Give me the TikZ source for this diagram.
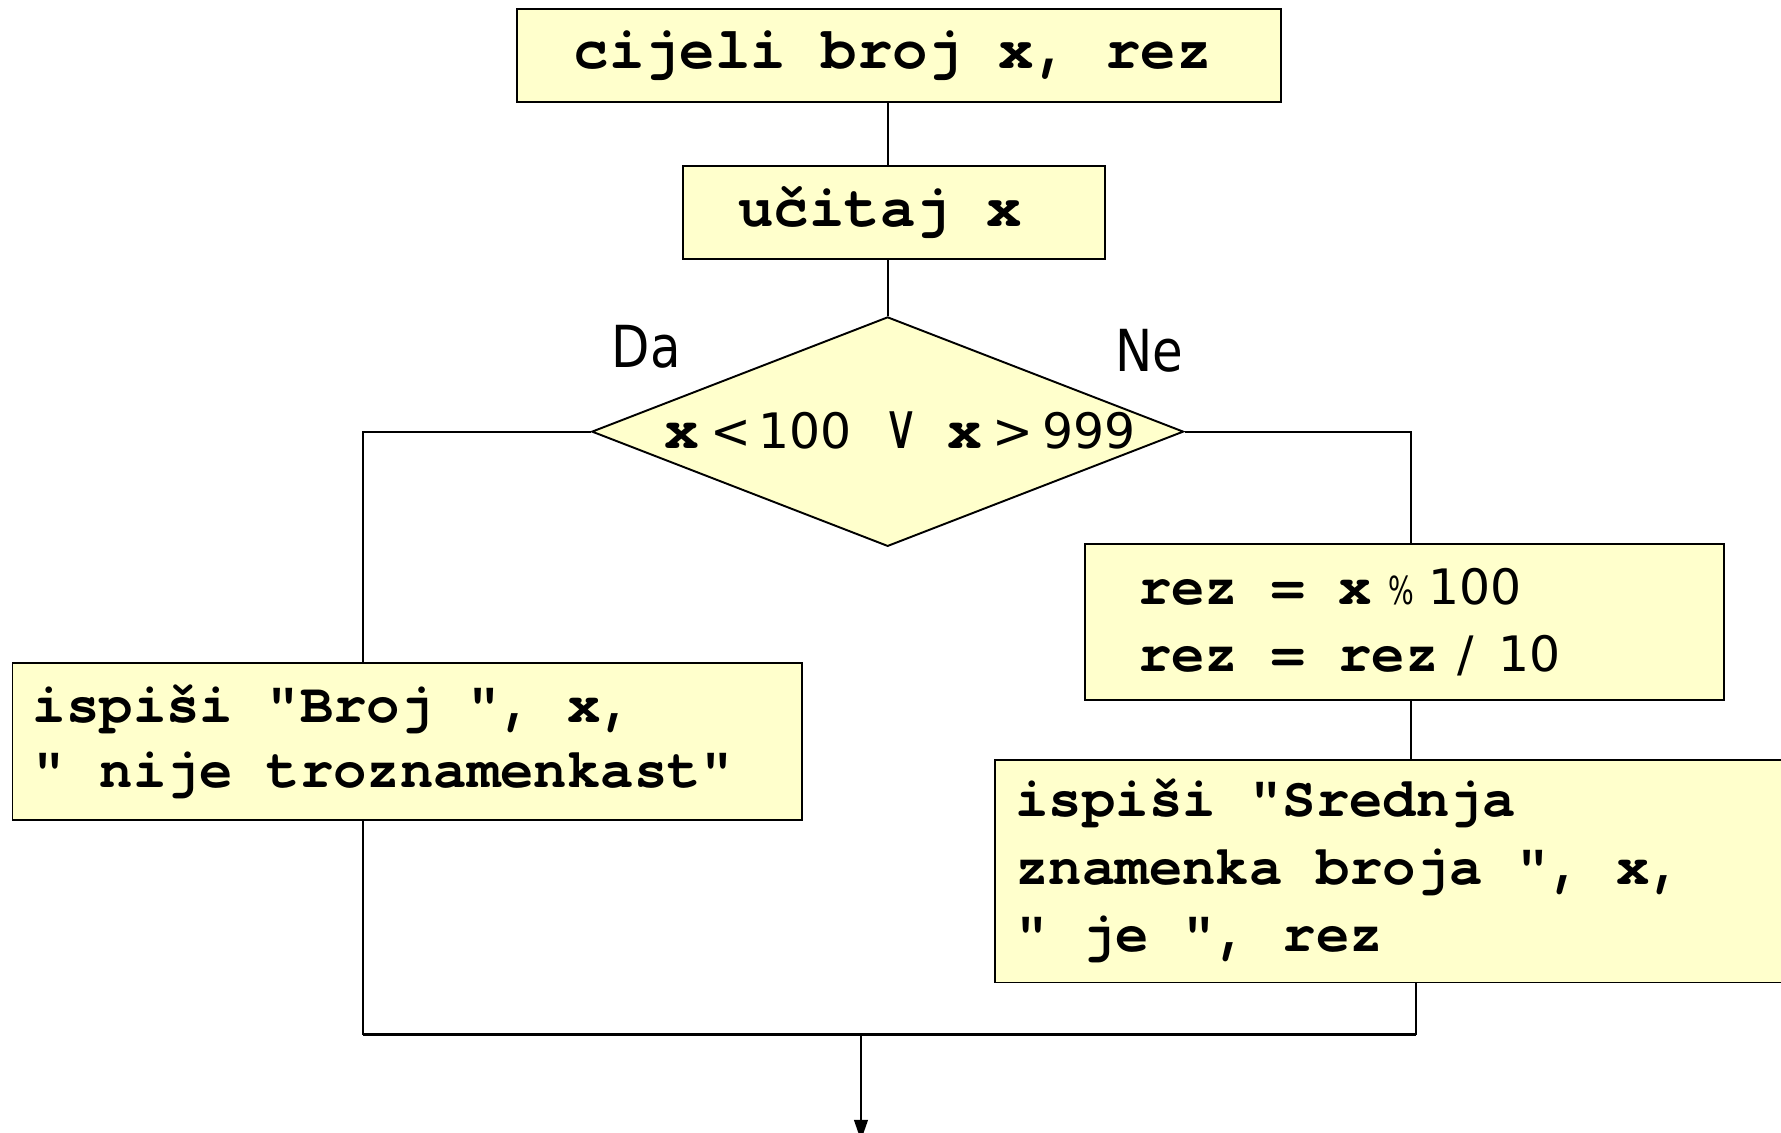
\documentclass[tikz,border=0pt]{standalone}
\usepackage{fontspec}
\usepackage{graphicx}
\usetikzlibrary{shapes.geometric,arrows.meta}
\newfontfamily\codefont{texgyrecursor}[Extension=.otf, UprightFont=*-bold, BoldFont=*-bold, Ligatures=TeXOff]
\newfontfamily\digitfont{DejaVu Sans}
\newfontfamily\labelfont{DejaVu Sans}[FakeStretch=0.86]
\definecolor{boxfill}{HTML}{FFFFCC}
% bold monospace code and sans-serif operators/numbers
\newcommand\codetxt[1]{{\codefont\bfseries\fontsize{51}{59}\selectfont #1}}
\newcommand\sanstxt[2][43]{{\digitfont\mdseries\fontsize{#1}{59}\selectfont #2}}
% keep full-width monospace word spaces inside ragged node text
\newcommand\monosp{\spaceskip=0.6em\xspaceskip=0.6em\relax}

\begin{document}
\begin{tikzpicture}[x=1pt,y=-1pt,
  pbox/.style={draw, line width=1.7pt, fill=boxfill, align=left, inner ysep=0pt},
  bigcode/.style={font=\codefont\bfseries\fontsize{52}{59}\selectfont},
  code/.style={font=\codefont\bfseries\fontsize{49}{#1}\selectfont},
  conn/.style={line width=1.8pt},
  branchlabel/.style={font=\labelfont\fontsize{51}{51}\selectfont, inner sep=0pt}]

\useasboundingbox (0,0) rectangle (1568,997);
\clip (0,0) rectangle (1568,997);

% declaration and input
\node[pbox, bigcode, text width=573pt, inner xsep=50pt, minimum height=82pt] (decl) at (791.5,49) {\monosp cijeli broj x, rez};
\node[pbox, bigcode, text width=274pt, inner xsep=49pt, minimum height=82pt] (read) at (787,187) {\monosp učitaj x};

% decision
\node[draw, line width=1.7pt, fill=boxfill, diamond, minimum width=521pt, minimum height=202pt, inner sep=0pt] (d) at (781.5,380) {};
\node[inner sep=0pt, anchor=base west] (cond) at (585,395)
  {\codetxt{x}\hspace{10pt}\sanstxt{<\hspace{6pt}100\hspace{28pt}\scalebox{1.0}[1.3]{∨}\hspace{25pt}}\codetxt{x}\hspace{9pt}\sanstxt{>\hspace{8pt}999}};

\node[branchlabel] (da) at (569,305.5) {Da};
\node[branchlabel] (ne) at (1012,308.5) {Ne};

% output and computation boxes
\node[pbox, code=57, text width=659pt, inner xsep=18pt, minimum height=138pt] (L) at (358.5,653)
  {\monosp ispiši "Broj ", x,\\" nije troznamenkast"};
\node[pbox, code=59, text width=469pt, inner xsep=47pt, minimum height=137pt] (R1) at (1236.5,547.5)
  {\monosp rez = x\hspace{15pt}\scalebox{0.7}[1]{\sanstxt[34]{\%}}\hspace{12pt}\sanstxt{100}\\rez = rez\hspace{17pt}\sanstxt{/}\hspace{21pt}\sanstxt{10}};
\node[pbox, code=59.5, text width=708pt, inner xsep=18pt, minimum height=196pt] (R2) at (1248,767)
  {\monosp ispiši "Srednja\\znamenka broja ", x,\\" je ", rez};

% routing points
\coordinate (lx) at (320,379);
\coordinate (rx) at (1242,379);
\coordinate (jl) at (320,911);
\coordinate (jr) at (1247,911);
\coordinate (j) at (758,911);
\coordinate (exit) at (758,1004);

% connectors
\draw[conn] (decl.south -| d.north) -- (read.north -| d.north);
\draw[conn] (read.south -| d.north) -- (d.north);
\draw[conn] (d.west) -| (L.north -| lx);
\draw[conn] (d.east) -| (R1.north -| rx);
\draw[conn] (R1.south -| rx) -- (R2.north -| rx);
\draw[conn] (L.south -| jl) -- (jl);
\draw[conn] (R2.south -| jr) -- (jr);
\draw[line width=2.8pt] (jl) -- (jr);
\draw[conn, -{Triangle[length=18pt,width=12pt]}] (j) -- (exit);
\end{tikzpicture}
\end{document}
